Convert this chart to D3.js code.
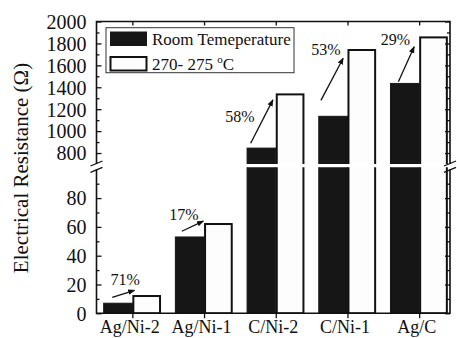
<!DOCTYPE html>
<html>
<head>
<meta charset="utf-8">
<script src="https://cdn.jsdelivr.net/npm/d3@7"></script>
<style>
  body { margin: 0; background: #fff; }
  svg { display: block; font-family: "Liberation Serif", "Times New Roman", serif; }
  svg text { font-family: "Liberation Serif", "Times New Roman", serif; }
</style>
</head>
<body>
<svg id="chart" width="457" height="338"></svg>
<script>
// data
const categories = ["Ag/Ni-2", "Ag/Ni-1", "C/Ni-2", "C/Ni-1", "Ag/C"];
const roomTemp = [7, 53, 845, 1135, 1435];
const hotTemp = [12, 62, 1335, 1740, 1855];
const increase = ["71%", "17%", "58%", "53%", "29%"];
const seriesNames = ["Room Temeperature", "270- 275 "];

const lowerTicks = [0, 20, 40, 60, 80];
const lowerMinor = [10, 30, 50, 70, 90];
const upperTicks = [800, 1000, 1200, 1400, 1600, 1800, 2000];
const upperMinor = [900, 1100, 1300, 1500, 1700, 1900];

// arrow annotations: [dx start, value start, dx end, value end] and label [dx, value]
const arrows = [
  [-0.28, 11, 0.03, 16],
  [-0.31, 57, -0.01, 64],
  [-0.35, 890, -0.04, 1285],
  [-0.37, 1280, -0.06, 1665],
  [-0.29, 1450, -0.07, 1770]
];
const labelPos = [[-0.1, 20], [-0.28, 65], [-0.5, 1085], [-0.3, 1695], [-0.33, 1785]];

const pLeft = 96.5, pRight = 450, pTop = 21.5, pBottom = 313.3;
const breakLow = 169.3, breakHigh = 164;

const svg = d3.select("#chart");

const x = d3.scaleLinear().domain([0.5, 5.43]).range([pLeft, pRight]);
const yLow = d3.scaleLinear().domain([0, 100]).range([pBottom, breakLow]);
const yHigh = d3.scaleLinear().domain([700, 2000]).range([breakHigh, pTop]);
const yOf = v => v <= 100 ? yLow(v) : yHigh(v);
const barW = x(1.4) - x(1);

const panels = [
  {scale: yLow, d0: 0, d1: 100, id: "clipLow"},
  {scale: yHigh, d0: 700, d1: 2000, id: "clipHigh"}
];

const defs = svg.append("defs");
panels.forEach(p => {
  defs.append("clipPath").attr("id", p.id)
    .append("rect")
    .attr("x", pLeft).attr("width", pRight - pLeft)
    .attr("y", p.scale.range()[1] - 2)
    .attr("height", p.scale.range()[0] - p.scale.range()[1] + 2);
});
defs.append("marker")
    .attr("id", "head")
    .attr("viewBox", "0 0 10 10")
    .attr("refX", 9).attr("refY", 5)
    .attr("markerWidth", 7).attr("markerHeight", 7)
    .attr("markerUnits", "userSpaceOnUse")
    .attr("orient", "auto")
  .append("path")
    .attr("d", "M0,1 L10,5 L0,9 Z")
    .attr("fill", "#111");

// bars, drawn once per panel and clipped
const series = [
  {vals: roomTemp, off: -barW, fill: "#161616", stroke: "#161616", sw: 1},
  {vals: hotTemp, off: 0, fill: "#fdfdfd", stroke: "#111", sw: 2}
];
panels.forEach(p => {
  const g = svg.append("g").attr("clip-path", `url(#${p.id})`);
  series.forEach(s => {
    g.selectAll(null)
      .data(s.vals.map((v, i) => ({v, i})).filter(d => d.v > p.d0))
      .enter().append("rect")
        .attr("x", d => x(d.i + 1) + s.off + (s.sw > 1 ? 1 : 0))
        .attr("width", barW - (s.sw > 1 ? 2 : 0))
        .attr("y", d => d.v > p.d1 ? p.scale.range()[1] - 6 : p.scale(d.v))
        .attr("height", d => {
          const t = d.v > p.d1 ? p.scale.range()[1] - 6 : p.scale(d.v);
          return p.scale.range()[0] + (p.d0 > 0 ? 6 : 0) - t;
        })
        .attr("fill", s.fill)
        .attr("stroke", s.stroke)
        .attr("stroke-width", s.sw);
  });
});

// frame with the break gap on both sides
const frame = svg.append("g").attr("stroke", "#111").attr("stroke-width", 1.6).attr("fill", "none");
frame.append("path").attr("d", `M${pLeft},${breakHigh} V${pTop} H${pRight} V${breakHigh}`);
frame.append("path").attr("d", `M${pLeft},${breakLow} V${pBottom} H${pRight} V${breakLow}`);
[pLeft, pRight].forEach(bx => {
  [breakHigh - 0.5, breakLow + 0.5].forEach(by => {
    frame.append("line")
      .attr("x1", bx - 6).attr("y1", by + 2.5)
      .attr("x2", bx + 6).attr("y2", by - 2.5)
      .attr("stroke-width", 1.3);
  });
});

function styleAxis(g) {
  g.attr("font-family", null);
  g.select(".domain").remove();
  g.selectAll(".tick line").attr("stroke", "#111").attr("stroke-width", 1.3);
  g.selectAll("text").attr("fill", "#111");
}

// left axis, ticks pointing inward
[[yLow, lowerTicks, lowerMinor], [yHigh, upperTicks, upperMinor]].forEach(([sc, maj, minr]) => {
  svg.append("g").attr("transform", `translate(${pLeft},0)`)
    .call(d3.axisLeft(sc).tickValues(maj).tickSize(-5).tickPadding(10).tickFormat(d3.format("d")))
    .call(styleAxis)
    .selectAll("text").attr("font-size", 20).attr("dy", "0.34em");
  svg.append("g").attr("transform", `translate(${pLeft},0)`)
    .call(d3.axisLeft(sc).tickValues(minr).tickSize(-3).tickFormat(""))
    .call(styleAxis);
  svg.append("g").attr("transform", `translate(${pRight},0)`)
    .call(d3.axisRight(sc).tickValues(maj).tickSize(-5).tickFormat(""))
    .call(styleAxis);
  svg.append("g").attr("transform", `translate(${pRight},0)`)
    .call(d3.axisRight(sc).tickValues(minr).tickSize(-3).tickFormat(""))
    .call(styleAxis);
});

// category axes
svg.append("g").attr("transform", `translate(0,${pBottom})`)
  .call(d3.axisBottom(x).tickValues([1, 2, 3, 4, 5]).tickSize(5).tickPadding(2)
    .tickFormat(d => categories[d - 1]))
  .call(styleAxis)
  .selectAll("text").attr("font-size", 18).attr("dx", -3);
svg.append("g").attr("transform", `translate(0,${pTop})`)
  .call(d3.axisTop(x).tickValues([1, 2, 3, 4, 5]).tickSize(-4).tickFormat(""))
  .call(styleAxis);

// increase arrows and labels
const ann = svg.append("g");
arrows.forEach((a, i) => {
  ann.append("line")
    .attr("x1", x(i + 1 + a[0])).attr("y1", yOf(a[1]))
    .attr("x2", x(i + 1 + a[2])).attr("y2", yOf(a[3]))
    .attr("stroke", "#111").attr("stroke-width", 1.3)
    .attr("marker-end", "url(#head)");
});
ann.selectAll("text.pct")
  .data(increase).enter().append("text")
    .attr("class", "pct")
    .attr("x", (d, i) => x(i + 1 + labelPos[i][0]))
    .attr("y", (d, i) => yOf(labelPos[i][1]))
    .attr("text-anchor", "middle")
    .attr("font-size", 16)
    .attr("fill", "#111")
    .text(d => d);

// y title
svg.append("text")
  .attr("transform", "translate(28,168) rotate(-90)")
  .attr("text-anchor", "middle")
  .attr("font-size", 21)
  .attr("fill", "#111")
  .text("Electrical Resistance (Ω)");

// legend
const lg = svg.append("g");
lg.append("rect").attr("x", 106).attr("y", 27.7).attr("width", 188).attr("height", 45)
  .attr("fill", "#fff").attr("stroke", "#333").attr("stroke-width", 1);
series.forEach((s, i) => {
  lg.append("rect")
    .attr("x", 110.5).attr("y", 32 + i * 25)
    .attr("width", 36).attr("height", 13.5)
    .attr("fill", s.fill).attr("stroke", s.stroke).attr("stroke-width", s.sw);
  const t = lg.append("text")
    .attr("x", 152).attr("y", 45 + i * 25.3)
    .attr("font-size", 17).attr("fill", "#111")
    .text(seriesNames[i]);
  if (i === 1) {
    t.append("tspan").attr("font-size", 11).attr("dy", -7).text("o");
    t.append("tspan").attr("dy", 7).text("C");
  }
});
</script>
</body>
</html>
